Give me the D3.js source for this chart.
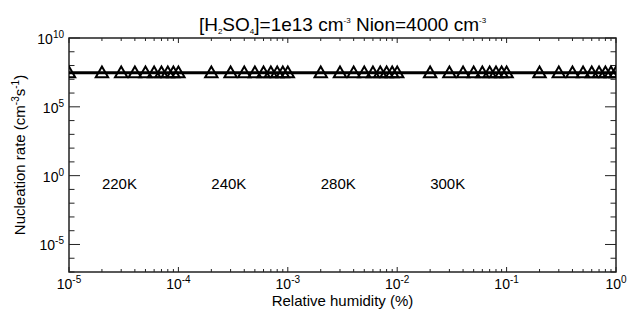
<!DOCTYPE html>
<html>
<head>
<meta charset="utf-8">
<script src="https://cdn.jsdelivr.net/npm/d3@7"></script>
<style>
  body { margin: 0; background: #fff; }
  text { font-family: "Liberation Sans", Arial, sans-serif; fill: #000; }
</style>
</head>
<body>
<div id="chart"></div>
<script>
// Nucleation rate vs relative humidity

var width = 635, height = 312;
var margin = {top: 38, right: 19, bottom: 40, left: 69};

// DATA
var humidity = [
  1e-5, 2e-5, 3e-5, 4e-5, 5e-5, 6e-5, 7e-5, 8e-5, 9e-5,
  1e-4, 2e-4, 3e-4, 4e-4, 5e-4, 6e-4, 7e-4, 8e-4, 9e-4,
  1e-3, 2e-3, 3e-3, 4e-3, 5e-3, 6e-3, 7e-3, 8e-3, 9e-3,
  1e-2, 2e-2, 3e-2, 4e-2, 5e-2, 6e-2, 7e-2, 8e-2, 9e-2,
  1e-1, 2e-1, 3e-1, 4e-1, 5e-1, 6e-1, 7e-1, 8e-1, 9e-1,
  1
];
var rate = [
  3e7, 3e7, 3e7, 3e7, 3e7, 3e7, 3e7, 3e7, 3e7,
  3e7, 3e7, 3e7, 3e7, 3e7, 3e7, 3e7, 3e7, 3e7,
  3e7, 3e7, 3e7, 3e7, 3e7, 3e7, 3e7, 3e7, 3e7,
  3e7, 3e7, 3e7, 3e7, 3e7, 3e7, 3e7, 3e7, 3e7,
  3e7, 3e7, 3e7, 3e7, 3e7, 3e7, 3e7, 3e7, 3e7,
  3e7
];
var tempLabels = ["220K", "240K", "280K", "300K"];
var tempX = [2e-5, 2e-4, 2e-3, 2e-2];
var tempY = [0.1, 0.1, 0.1, 0.1];

var xMajor = [-5, -4, -3, -2, -1, 0];   // exponents
var yMajor = [10, 5, 0, -5];
var xDomain = [1e-5, 1];
var yDomain = [1e-7, 1e10];

var data = humidity.map(function(h, i) { return {x: h, y: rate[i]}; });

var w = width - margin.left - margin.right;
var h = height - margin.top - margin.bottom;

var svg = d3.select("#chart").append("svg")
  .attr("width", width).attr("height", height);
var g = svg.append("g")
  .attr("transform", "translate(" + margin.left + "," + margin.top + ")");

var x = d3.scaleLog().domain(xDomain).range([0, w]);
var y = d3.scaleLog().domain(yDomain).range([h, 0]);

// minor ticks
var xMinor = [];
for (var e = -5; e < 0; e++) for (var m = 2; m <= 9; m++) xMinor.push(m * Math.pow(10, e));
var yMinor = [];
for (var e2 = -7; e2 <= 10; e2++) if (yMajor.indexOf(e2) < 0) yMinor.push(Math.pow(10, e2));

var axisColor = "#222";

// bottom / top x ticks (inward)
function xTicks(yPos, dir) {
  g.append("g").selectAll("line.minor").data(xMinor).enter().append("line")
    .attr("x1", function(d) { return x(d); }).attr("x2", function(d) { return x(d); })
    .attr("y1", yPos).attr("y2", yPos + dir * 3)
    .attr("stroke", axisColor).attr("stroke-width", 1);
  g.append("g").selectAll("line.major").data(xMajor).enter().append("line")
    .attr("x1", function(d) { return x(Math.pow(10, d)); }).attr("x2", function(d) { return x(Math.pow(10, d)); })
    .attr("y1", yPos).attr("y2", yPos + dir * 5)
    .attr("stroke", axisColor).attr("stroke-width", 1);
}
xTicks(h, -1);
xTicks(0, 1);

function yTicks(xPos, dir) {
  g.append("g").selectAll("line.minor").data(yMinor).enter().append("line")
    .attr("y1", function(d) { return y(d); }).attr("y2", function(d) { return y(d); })
    .attr("x1", xPos).attr("x2", xPos + dir * 5.5)
    .attr("stroke", axisColor).attr("stroke-width", 1);
  g.append("g").selectAll("line.major").data(yMajor).enter().append("line")
    .attr("y1", function(d) { return y(Math.pow(10, d)); }).attr("y2", function(d) { return y(Math.pow(10, d)); })
    .attr("x1", xPos).attr("x2", xPos + dir * 11)
    .attr("stroke", axisColor).attr("stroke-width", 1);
}
yTicks(0, 1);
yTicks(w, -1);

// frame
g.append("rect").attr("x", 0).attr("y", 0).attr("width", w).attr("height", h)
  .attr("fill", "none").attr("stroke", axisColor).attr("stroke-width", 1.5);

// tick labels
var xl = g.append("g").selectAll("text").data(xMajor).enter().append("text")
  .attr("x", function(d) { return x(Math.pow(10, d)); })
  .attr("y", h + 17)
  .attr("text-anchor", "middle")
  .style("font-size", "14px");
xl.append("tspan").text("10");
xl.append("tspan").attr("dy", -6).style("font-size", "10px").text(function(d) { return d; });

var yl = g.append("g").selectAll("text").data(yMajor).enter().append("text")
  .attr("x", -5)
  .attr("y", function(d) { return y(Math.pow(10, d)) + 6; })
  .attr("text-anchor", "end")
  .style("font-size", "14px");
yl.append("tspan").text("10");
yl.append("tspan").attr("dy", -6).style("font-size", "10px").text(function(d) { return d; });

// clip
svg.append("defs").append("clipPath").attr("id", "clip")
  .append("rect").attr("width", w).attr("height", h);
var plot = g.append("g").attr("clip-path", "url(#clip)");

var line = d3.line().x(function(d) { return x(d.x); }).y(function(d) { return y(d.y); });
plot.append("path").datum(data).attr("d", line)
  .attr("fill", "none").attr("stroke", "#000").attr("stroke-width", 3);

var tri = d3.symbol().type(d3.symbolTriangle).size(66);
plot.selectAll("path.tri").data(data).enter().append("path")
  .attr("class", "tri")
  .attr("d", tri)
  .attr("transform", function(d) { return "translate(" + x(d.x) + "," + (y(d.y) + 1) + ")"; })
  .attr("fill", "none").attr("stroke", "#000").attr("stroke-width", 2);

// temperature labels
g.selectAll("text.temp").data(tempLabels).enter().append("text")
  .attr("class", "temp")
  .attr("x", function(d, i) { return x(tempX[i]); })
  .attr("y", function(d, i) { return y(tempY[i]); })
  .style("font-size", "15px")
  .text(function(d) { return d; });

// title
var title = svg.append("text")
  .attr("x", margin.left + w / 2).attr("y", 31)
  .attr("text-anchor", "middle")
  .style("font-size", "19px");
title.append("tspan").text("[H");
title.append("tspan").attr("dy", 3).style("font-size", "8px").text("2");
title.append("tspan").attr("dy", -3).text("SO");
title.append("tspan").attr("dy", 3).style("font-size", "8px").text("4");
title.append("tspan").attr("dy", -3).text("]=1e13 cm");
title.append("tspan").attr("dy", -8).style("font-size", "8px").text("-3");
title.append("tspan").attr("dy", 8).text(" Nion=4000 cm");
title.append("tspan").attr("dy", -8).style("font-size", "8px").text("-3");

// axis titles
svg.append("text")
  .attr("x", margin.left + w / 2).attr("y", 306)
  .attr("text-anchor", "middle")
  .style("font-size", "15px")
  .text("Relative humidity (%)");

var yt = svg.append("text")
  .attr("transform", "translate(25," + (margin.top + h / 2) + ") rotate(-90)")
  .attr("text-anchor", "middle")
  .style("font-size", "15px");
yt.append("tspan").text("Nucleation rate (cm");
yt.append("tspan").attr("dy", -6).style("font-size", "10px").text("-3");
yt.append("tspan").attr("dy", 6).text("s");
yt.append("tspan").attr("dy", -6).style("font-size", "10px").text("-1");
yt.append("tspan").attr("dy", 6).text(")");
</script>
</body>
</html>
